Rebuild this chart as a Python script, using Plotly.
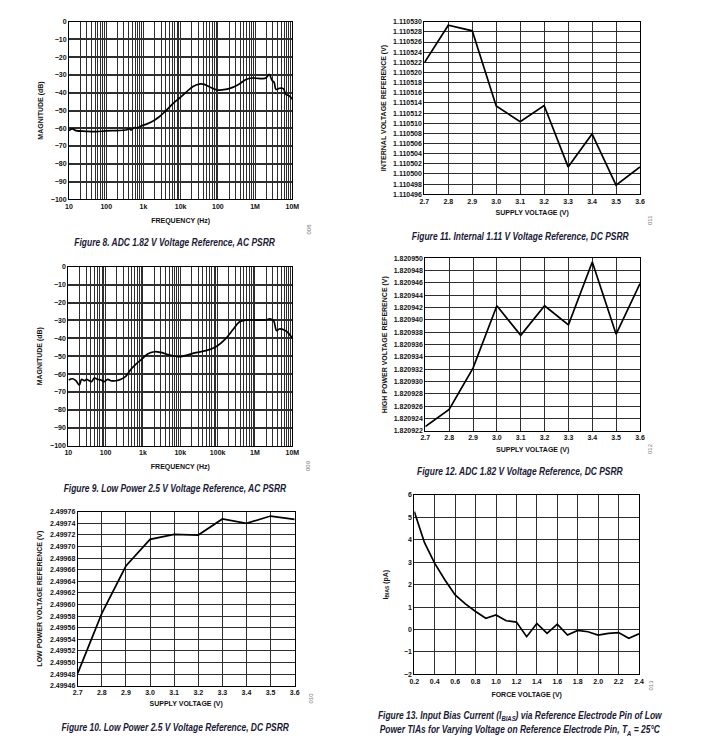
import plotly.graph_objects as go

W, H = 701, 754

# ---------------- data ----------------
# Figure 8: ADC 1.82 V reference, AC PSRR
f8_freq = [10, 12.5, 15.4, 28.6, 53, 98.6, 183, 340, 417, 462, 569, 698, 859, 1170, 1767,
           2668, 4030, 6080, 9190, 13870, 20950, 31640, 43130, 58750, 98340, 164800,
           248900, 375900, 567700, 857000, 1590000, 1950000, 2400000, 2830000, 3270000,
           3630000, 4460000, 5710000, 6730000, 8280000, 10000000]
f8_mag = [-61.3, -60.4, -61.3, -61.7, -61.9, -61.5, -61.3, -61.0, -60.2, -61.0, -59.6, -59.8,
          -58.7, -57.8, -56.1, -53.5, -50.1, -46.3, -43.1, -39.8, -36.6, -35.1, -35.3, -36.6,
          -38.5, -38.1, -37.0, -35.1, -32.5, -31.7, -32.1, -31.7, -29.7, -32.9, -34.3, -38.1,
          -37.5, -37.7, -40.9, -41.8, -43.7]

# Figure 9: Low power 2.5 V reference, AC PSRR
f9_freq = [10.2, 13.1, 16, 19.7, 22.8, 26.8, 31, 36.5, 42.2, 49.7, 61, 75, 92, 113, 139, 189,
           257, 351, 477, 649, 883, 1330, 2010, 3040, 5080, 9400, 14190, 26300, 48700, 90200,
           167000, 252000, 380000, 574000, 1064000, 1970000, 2520000, 3160000, 3800000,
           4490000, 6110000, 7980000, 10000000]
f9_mag = [-63.3, -62.6, -63.7, -66.1, -62.9, -63.7, -62.9, -63.7, -64.2, -62.2, -62.9, -63.3,
          -64.2, -62.9, -63.7, -63.7, -62.9, -61.1, -57.3, -54.4, -52.1, -48.8, -47.5, -47.9,
          -49.3, -50.3, -49.5, -48.0, -46.9, -44.7, -40.0, -35.4, -30.9, -29.8, -29.8, -29.8,
          -29.1, -30.2, -35.7, -34.8, -35.4, -37.2, -40.0]

supply_v = [2.7, 2.8, 2.9, 3.0, 3.1, 3.2, 3.3, 3.4, 3.5, 3.6]
# Figure 11: Internal 1.11 V reference, DC PSRR
f11_vref = [1.1105219, 1.1105293, 1.1105282, 1.1105134, 1.1105103, 1.1105135, 1.1105014,
            1.1105079, 1.1104978, 1.1105014]
# Figure 12: ADC 1.82 V reference, DC PSRR
f12_vref = [1.8209227, 1.8209255, 1.8209322, 1.8209423, 1.8209375, 1.8209423, 1.8209392,
            1.8209494, 1.8209377, 1.8209459]
# Figure 10: Low power 2.5 V reference, DC PSRR
f10_vref = [2.4994813, 2.4995847, 2.4996663, 2.4997123, 2.4997209, 2.4997198, 2.4997474,
            2.4997399, 2.4997525, 2.4997468]

# Figure 13: Input bias current vs force voltage
f13_force = [0.2, 0.3, 0.4, 0.5, 0.6, 0.7, 0.8, 0.9, 1.0, 1.1, 1.2, 1.3, 1.4, 1.5, 1.6, 1.7,
             1.8, 1.9, 2.0, 2.1, 2.2, 2.3, 2.4]
f13_ibias = [5.26, 3.87, 2.95, 2.21, 1.54, 1.14, 0.80, 0.50, 0.65, 0.39, 0.33, -0.32, 0.27,
             -0.17, 0.24, -0.25, -0.04, -0.10, -0.25, -0.17, -0.14, -0.39, -0.19]

# tick labels
f8_xticktext = ["10", "100", "1k", "10k", "100", "1M", "10M"]
f9_xticktext = ["10", "100", "1k", "10k", "100k", "1M", "10M"]
db_tickvals = [0, -10, -20, -30, -40, -50, -60, -70, -80, -90, -100]
db_ticktext = ["0", "−10", "−20", "−30", "−40", "−50", "−60", "−70", "−80", "−90", "−100"]
f13_ytickvals = [6, 5, 4, 3, 2, 1, 0, -1, -2]
f13_yticktext = ["6", "5", "4", "3", "2", "1", "0", "−1", "−2"]

# ---------------- styling helpers ----------------
TICKFONT = dict(family="Liberation Sans, Arial, sans-serif", size=7, color="#111", weight="bold")
TITLEFONT = dict(family="Liberation Sans, Arial, sans-serif", size=7, color="#111", weight="bold")
CAPFONT = dict(family="Liberation Sans, Arial, sans-serif", size=11, color="#1a1a36")
GRID = "#2e2e2e"


def xd(l, r):
    return [l / W, r / W]


def yd(t, b):
    return [1 - b / H, 1 - t / H]


def base_axis(**kw):
    d = dict(showline=True, linecolor="black", linewidth=1, mirror=True, ticks="",
             tickfont=TICKFONT, showgrid=True, gridcolor=GRID, gridwidth=1.3,
             zeroline=False, automargin=False, title_font=TITLEFONT)
    d.update(kw)
    return d


decades = [10, 100, 1e3, 1e4, 1e5, 1e6, 1e7]
log_minor = [d * k for d in decades[:-1] for k in range(2, 10)]
line_style = dict(color="black", width=1.7)

fig = go.Figure()
fig.add_trace(go.Scatter(x=f8_freq, y=f8_mag, mode="lines", line=line_style, xaxis="x", yaxis="y",
                         showlegend=False, line_shape="spline"))
fig.add_trace(go.Scatter(x=supply_v, y=f11_vref, mode="lines", line=line_style, xaxis="x2", yaxis="y2",
                         showlegend=False))
fig.add_trace(go.Scatter(x=f9_freq, y=f9_mag, mode="lines", line=line_style, xaxis="x3", yaxis="y3",
                         showlegend=False, line_shape="spline"))
fig.add_trace(go.Scatter(x=supply_v, y=f12_vref, mode="lines", line=line_style, xaxis="x4", yaxis="y4",
                         showlegend=False))
fig.add_trace(go.Scatter(x=supply_v, y=f10_vref, mode="lines", line=line_style, xaxis="x5", yaxis="y5",
                         showlegend=False))
fig.add_trace(go.Scatter(x=f13_force, y=f13_ibias, mode="lines", line=line_style, xaxis="x6", yaxis="y6",
                         showlegend=False))

log_x = lambda dom, txt: base_axis(type="log", domain=dom, range=[1, 7], tickvals=decades, ticktext=txt,
                                   minor=dict(tickvals=log_minor, showgrid=True, gridcolor=GRID, gridwidth=1.1),
                                   title=dict(text="FREQUENCY (Hz)", standoff=9))
db_y = lambda dom, anc, so: base_axis(domain=dom, range=[-100, 0], tickvals=db_tickvals, ticktext=db_ticktext,
                                      anchor=anc, gridwidth=1.8,
                                      title=dict(text="MAGNITUDE (dB)", standoff=so))
sv_x = lambda dom, anc, so: base_axis(domain=dom, range=[2.7, 3.6], dtick=0.1, tick0=2.7, tickformat=".1f",
                                      anchor=anc, title=dict(text="SUPPLY VOLTAGE (V)", standoff=so))

fig.update_layout(
    width=W, height=H, margin=dict(l=0, r=0, t=0, b=0),
    paper_bgcolor="white", plot_bgcolor="white",
    xaxis=dict(**log_x(xd(69, 292.3), f8_xticktext), anchor="y"),
    yaxis=db_y(yd(21.7, 199.3), "x", 6),
    xaxis2=sv_x(xd(424.3, 640), "y2", 6),
    yaxis2=base_axis(domain=yd(21.7, 194.3), anchor="x2", range=[1.110496, 1.110530],
                     dtick=0.000002, tick0=1.110496, tickformat=".6f",
                     title=dict(text="INTERNAL VOLTAGE REFERENCE (V)", standoff=5)),
    xaxis3=dict(**log_x(xd(68.3, 292.3), f9_xticktext), anchor="y3"),
    yaxis3=db_y(yd(266.7, 445.7), "x3", 6),
    xaxis4=sv_x(xd(425.3, 640), "y4", 6),
    yaxis4=base_axis(domain=yd(258.3, 431), anchor="x4", range=[1.820922, 1.820950],
                     dtick=0.000002, tick0=1.820922, tickformat=".6f",
                     title=dict(text="HIGH POWER VOLTAGE REFERENCE (V)", standoff=5)),
    xaxis5=sv_x(xd(77.7, 294.7), "y5", 6),
    yaxis5=base_axis(domain=yd(511.7, 685.7), anchor="x5", range=[2.49946, 2.49976],
                     dtick=0.00002, tick0=2.49946, tickformat=".5f",
                     title=dict(text="LOW POWER VOLTAGE REFERENCE (V)", standoff=6)),
    xaxis6=base_axis(domain=xd(414.3, 639), anchor="y6", range=[0.2, 2.4], dtick=0.2, tick0=0.2,
                     tickformat=".1f", title=dict(text="FORCE VOLTAGE (V)", standoff=8)),
    yaxis6=base_axis(domain=yd(495, 674.3), anchor="x6", range=[-2, 6], tickvals=f13_ytickvals,
                     ticktext=f13_yticktext,
                     title=dict(text="I<sub>BIAS</sub> (pA)", standoff=14)),
)

captions = [
    (174, 242, "Figure 8. ADC 1.82 V Voltage Reference, AC PSRR"),
    (519.5, 236, "Figure 11. Internal 1.11 V Voltage Reference, DC PSRR"),
    (175, 488, "Figure 9. Low Power 2.5 V Voltage Reference, AC PSRR"),
    (520, 471, "Figure 12. ADC 1.82 V Voltage Reference, DC PSRR"),
    (175, 727, "Figure 10. Low Power 2.5 V Voltage Reference, DC PSRR"),
    (520, 723, "Figure 13. Input Bias Current (I<sub>BIAS</sub>) via Reference Electrode Pin of Low<br>"
               "Power TIAs for Varying Voltage on Reference Electrode Pin, T<sub>A</sub> = 25°C"),
]
for cx, cy, txt in captions:
    fig.add_annotation(x=cx / W, y=1 - cy / H, xref="paper", yref="paper", text="<b><i>" + txt + "</i></b>",
                       showarrow=False, font=CAPFONT, xanchor="center", yanchor="middle", align="center")

codes = [(308, 222, "008"), (655, 213, "011"), (308, 466, "009"), (655, 449, "012"),
         (310, 706, "010"), (655, 693, "013")]
for cx, cy, txt in codes:
    fig.add_annotation(x=cx / W, y=1 - cy / H, xref="paper", yref="paper", text=txt, textangle=-90,
                       showarrow=False, font=dict(family="Liberation Sans, Arial", size=6, color="#777"))

post = """
document.body.style.margin = '0';
document.querySelectorAll('text.annotation-text').forEach(function (t) {
  if (t.textContent.indexOf('Figure') >= 0) {
    t.style.transformBox = 'fill-box';
    t.style.transformOrigin = 'center';
    t.style.transform = 'scaleX(0.77)';
  }
});
"""
fig.write_html("out.html", post_script=post, config={"displayModeBar": False})
